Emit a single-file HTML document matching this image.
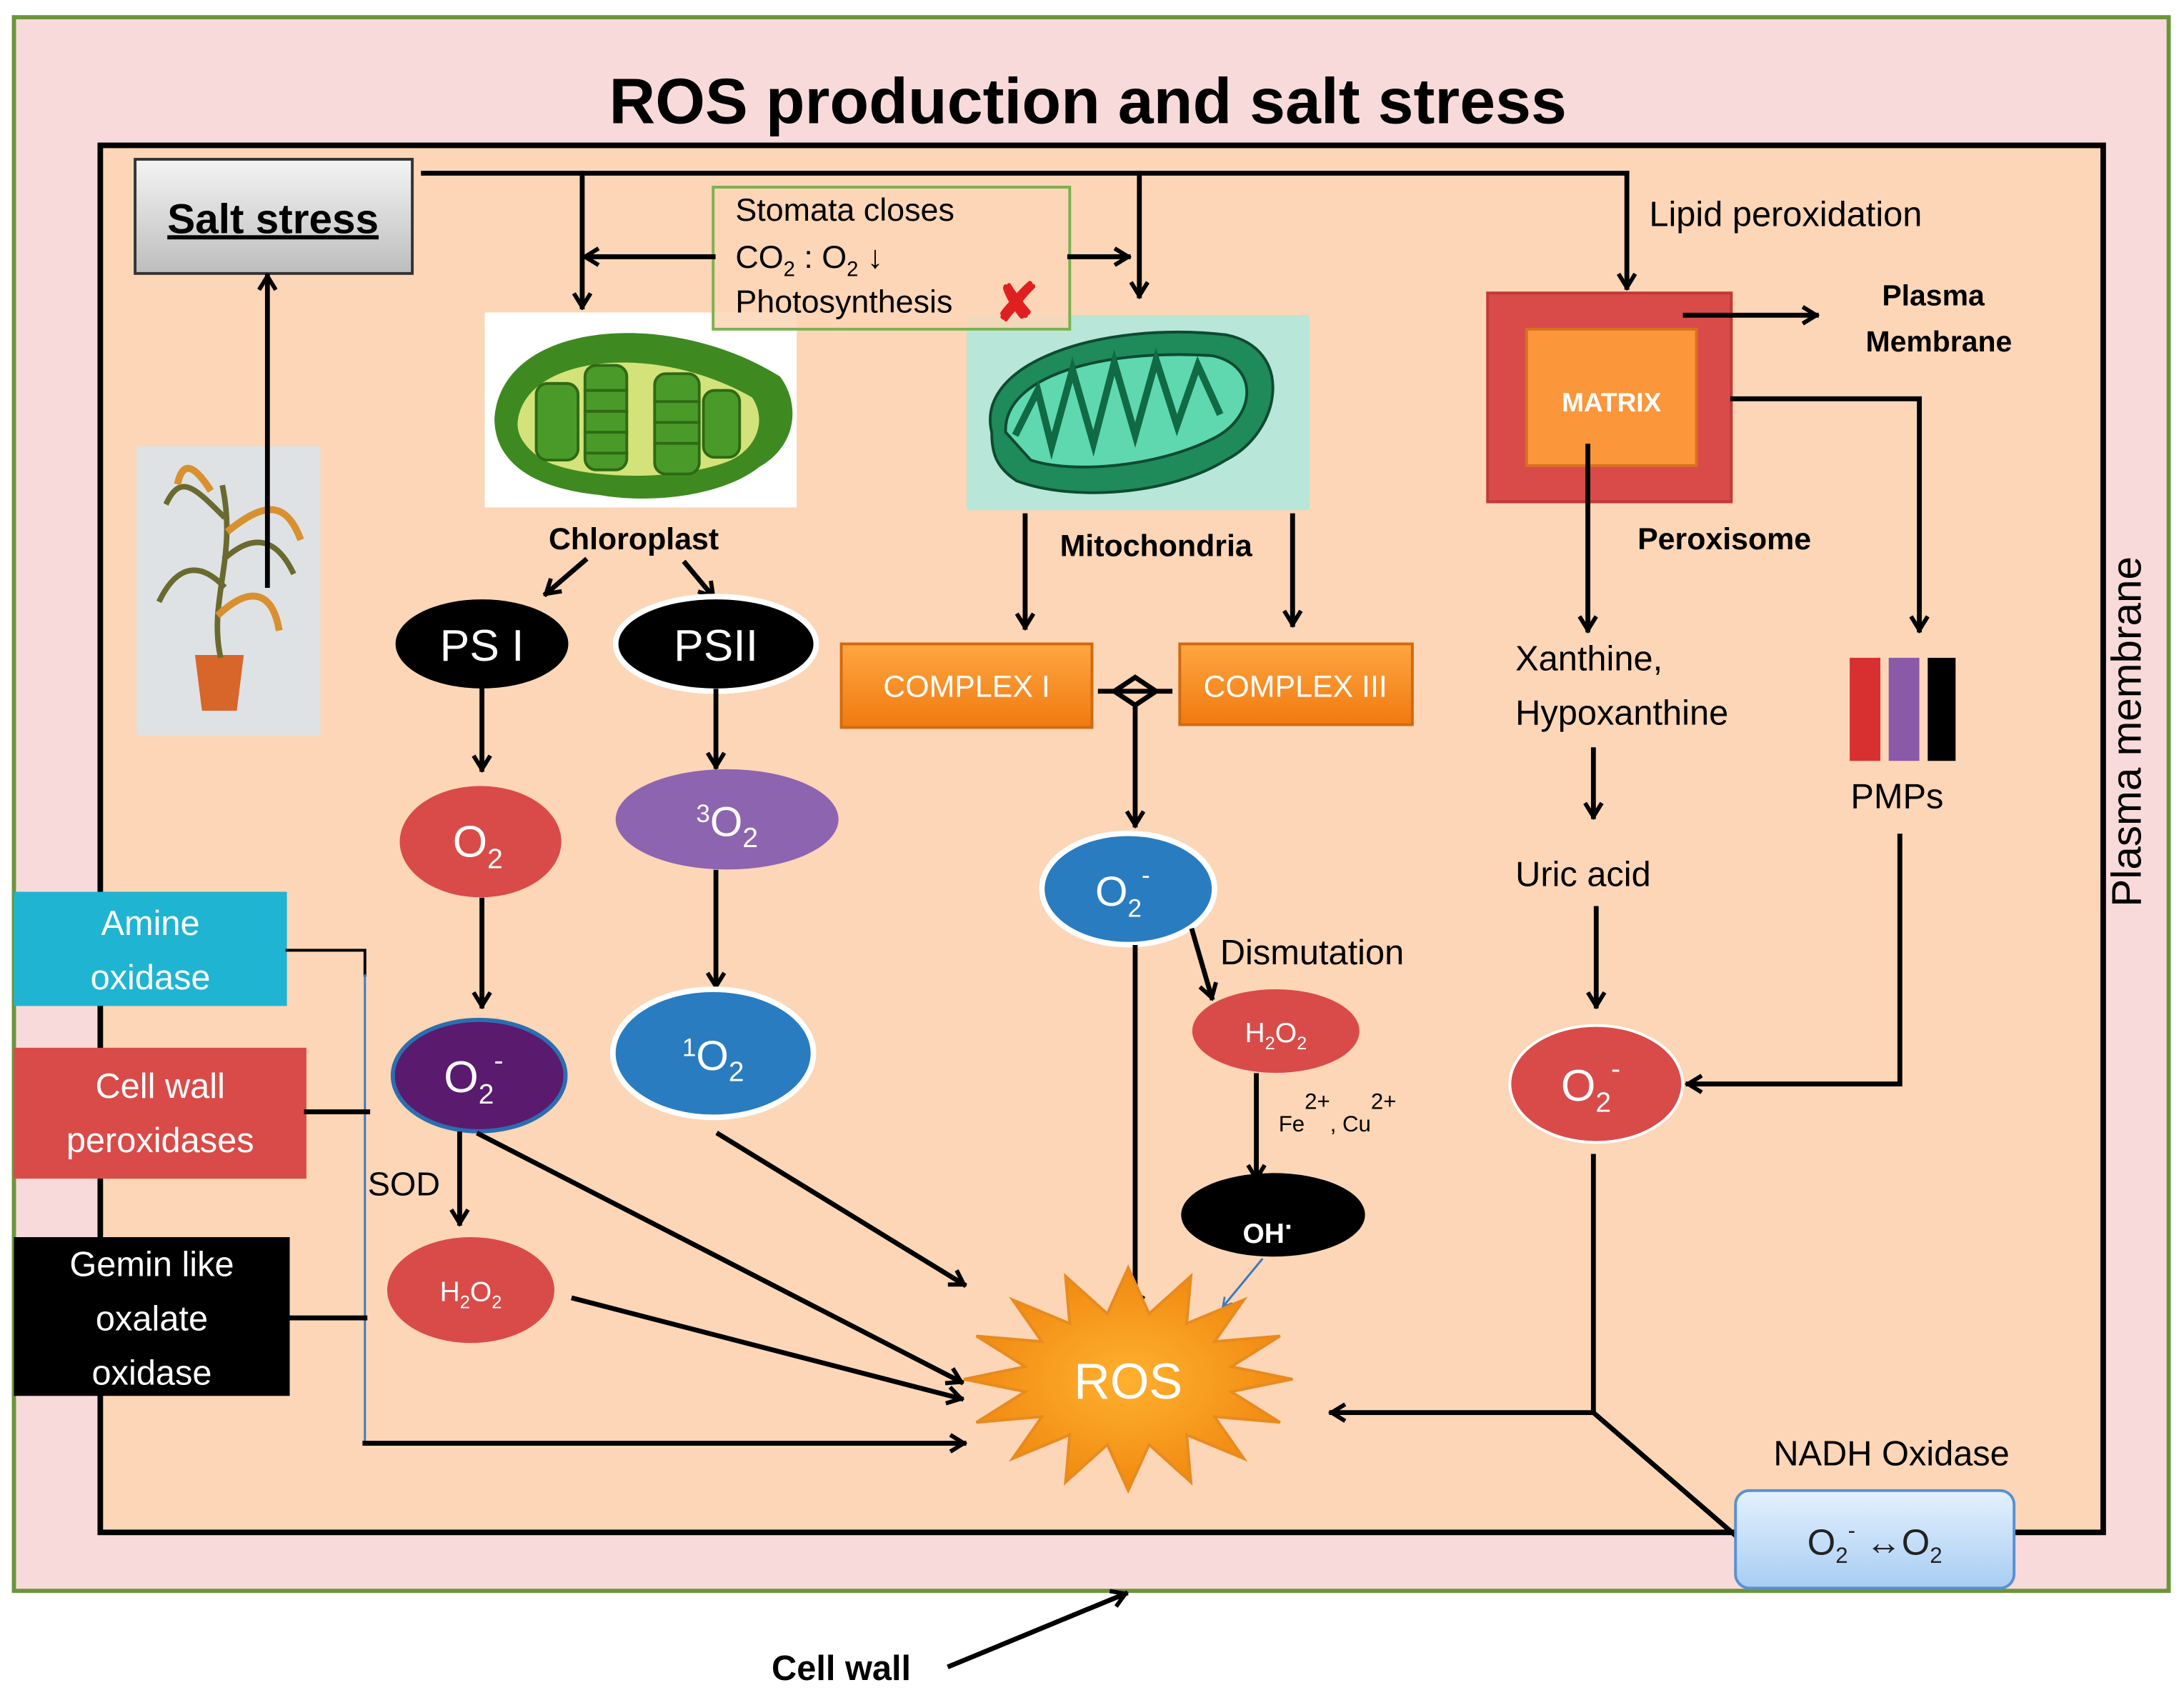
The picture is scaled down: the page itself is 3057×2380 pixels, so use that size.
<!DOCTYPE html>
<html><head><meta charset="utf-8"><style>
html,body{margin:0;padding:0;background:#fff;}
svg{display:block;}
text{font-family:"Liberation Sans",sans-serif;}
</style></head><body>
<svg width="3057" height="2380" viewBox="0 0 1568 1220" xmlns="http://www.w3.org/2000/svg">
<defs>
<marker id="a" viewBox="0 0 20 20" refX="17" refY="10" markerWidth="15" markerHeight="15" orient="auto" markerUnits="userSpaceOnUse">
<polyline points="4,2 17,10 4,18" fill="none" stroke="#000" stroke-width="4"/></marker>
<marker id="b" viewBox="0 0 20 20" refX="17" refY="10" markerWidth="9" markerHeight="9" orient="auto" markerUnits="userSpaceOnUse">
<polyline points="3,2 17,10 3,18" fill="none" stroke="#3a78c0" stroke-width="3"/></marker>
<linearGradient id="gs" x1="0" y1="0" x2="0" y2="1"><stop offset="0" stop-color="#f4f4f4"/><stop offset="1" stop-color="#bdbdbd"/></linearGradient>
<linearGradient id="go" x1="0" y1="0" x2="0" y2="1"><stop offset="0" stop-color="#ffa640"/><stop offset="1" stop-color="#f07a10"/></linearGradient>
<linearGradient id="gb" x1="0" y1="0" x2="0" y2="1"><stop offset="0" stop-color="#e4f1ff"/><stop offset="1" stop-color="#a8cdf2"/></linearGradient>
<radialGradient id="gr" cx=".5" cy=".5" r=".5"><stop offset="0" stop-color="#ffb030"/><stop offset="1" stop-color="#f08a10"/></radialGradient>
</defs>
<g stroke-linecap="square">
<rect x="10" y="12" width="1547" height="1130" fill="#f9dada" stroke="#6a963a" stroke-width="3"/>
<text x="781" y="88" font-size="46" font-weight="bold" text-anchor="middle">ROS production and salt stress</text>
<rect x="72" y="104" width="1438" height="996" fill="#fcd6b6" stroke="#000" stroke-width="4"/>
<text transform="translate(1537,525) rotate(-90)" font-size="30" text-anchor="middle">Plasma membrane</text>

<rect x="97" y="114" width="199" height="82" fill="url(#gs)" stroke="#333" stroke-width="2"/>
<text x="196" y="167" font-size="30" font-weight="bold" text-anchor="middle" text-decoration="underline">Salt stress</text>
<rect x="98" y="320" width="132" height="208" fill="#dfe2e4"/>
<path d="M140 470 L175 470 L170 510 L145 510Z" fill="#d8652a"/>
<g stroke="#6a6a30" stroke-width="4" fill="none"><path d="M158 470 C150 430 170 400 160 350"/><path d="M160 420 C140 400 125 410 115 430"/><path d="M162 400 C185 380 200 390 210 410"/><path d="M160 370 C140 350 130 340 120 360"/></g>
<g stroke="#d89030" stroke-width="5" fill="none"><path d="M165 380 C190 360 205 360 215 385"/><path d="M158 440 C180 420 195 425 200 450"/><path d="M150 350 C140 335 132 330 128 345"/></g>
<line x1="192" y1="420" x2="192" y2="198" stroke="#000" stroke-width="3.5" marker-end="url(#a)"/>

<polyline points="304,124 1168,124" fill="none" stroke="#000" stroke-width="3.5"/>
<line x1="418" y1="124" x2="418" y2="220" stroke="#000" stroke-width="3.5" marker-end="url(#a)"/>
<line x1="818" y1="124" x2="818" y2="212" stroke="#000" stroke-width="3.5" marker-end="url(#a)"/>
<line x1="1168" y1="124" x2="1168" y2="206" stroke="#000" stroke-width="3.5" marker-end="url(#a)"/>

<rect x="348" y="224" width="224" height="140" fill="#fff"/>
<path d="M355 300 C360 230 480 220 560 270 C575 290 572 320 545 335 C520 355 470 362 430 355 C380 350 355 330 355 300Z" fill="#3e8a20"/>
<path d="M372 300 C380 255 470 245 540 285 C550 300 545 320 525 330 C490 345 420 345 390 330 C375 320 370 310 372 300Z" fill="#d4e27a"/>
<g fill="#4a9a2a" stroke="#2e6a14" stroke-width="2"><rect x="385" y="275" width="30" height="55" rx="8"/><rect x="420" y="262" width="30" height="75" rx="8"/><rect x="470" y="268" width="32" height="72" rx="8"/><rect x="505" y="280" width="26" height="48" rx="8"/></g>
<g stroke="#2e6a14" stroke-width="2"><line x1="420" y1="280" x2="450" y2="280"/><line x1="420" y1="295" x2="450" y2="295"/><line x1="420" y1="310" x2="450" y2="310"/><line x1="420" y1="325" x2="450" y2="325"/><line x1="470" y1="288" x2="502" y2="288"/><line x1="470" y1="303" x2="502" y2="303"/><line x1="470" y1="318" x2="502" y2="318"/></g>

<rect x="694" y="226" width="246" height="140" fill="#b8e6d8"/>
<path d="M712 310 C700 260 790 230 880 240 C930 250 920 310 880 330 C840 355 770 360 730 345 C715 335 712 325 712 310Z" fill="#1f8a5a" stroke="#0e4a30" stroke-width="2"/>
<path d="M722 310 C720 270 790 250 870 255 C905 262 902 300 870 315 C830 335 770 340 740 330Z" fill="#5fd8b0" stroke="#0e4a30" stroke-width="2"/>
<path d="M730 310 L745 280 L755 320 L770 265 L785 318 L800 260 L815 312 L830 258 L845 305 L860 262 L875 295" fill="none" stroke="#106a44" stroke-width="5"/>

<rect x="512" y="134" width="256" height="102" fill="#fcd6b6" fill-opacity="0.85" stroke="#7cb050" stroke-width="2"/>
<text x="528" y="158" font-size="23">Stomata closes</text>
<text x="528" y="192" font-size="23">CO<tspan font-size="15" dy="6">2</tspan><tspan dy="-6"> : O</tspan><tspan font-size="15" dy="6">2</tspan><tspan dy="-6"> ↓</tspan></text>
<text x="528" y="224" font-size="23">Photosynthesis</text>
<text x="730" y="230" font-size="38" font-weight="bold" fill="#e02020" text-anchor="middle">✘</text>
<line x1="512" y1="184" x2="420" y2="184" stroke="#000" stroke-width="3.5" marker-end="url(#a)"/>
<line x1="768" y1="184" x2="810" y2="184" stroke="#000" stroke-width="3.5" marker-end="url(#a)"/>

<text x="455" y="394" font-size="22" font-weight="bold" text-anchor="middle">Chloroplast</text>
<text x="830" y="399" font-size="22" font-weight="bold" text-anchor="middle">Mitochondria</text>
<line x1="420" y1="402" x2="392" y2="426" stroke="#000" stroke-width="3.5" marker-end="url(#a)"/>
<line x1="492" y1="404" x2="512" y2="428" stroke="#000" stroke-width="3.5" marker-end="url(#a)"/>

<ellipse cx="346" cy="462" rx="62" ry="32" fill="#000"/>
<text x="346" y="474" font-size="32" fill="#fff" text-anchor="middle">PS I</text>
<ellipse cx="514" cy="462" rx="72" ry="34" fill="#000" stroke="#fff" stroke-width="4"/>
<text x="514" y="474" font-size="32" fill="#fff" text-anchor="middle">PSII</text>
<line x1="346" y1="494" x2="346" y2="552" stroke="#000" stroke-width="3.5" marker-end="url(#a)"/>
<line x1="514" y1="496" x2="514" y2="550" stroke="#000" stroke-width="3.5" marker-end="url(#a)"/>
<ellipse cx="345" cy="604" rx="58" ry="40" fill="#d94b48"/>
<text x="343" y="615" font-size="32" fill="#fff" text-anchor="middle">O<tspan font-size="20" dy="8">2</tspan></text>
<ellipse cx="522" cy="588" rx="80" ry="36" fill="#8c64b0"/>
<text x="522" y="600" font-size="30" fill="#fff" text-anchor="middle"><tspan font-size="18" dy="-10">3</tspan><tspan dy="10">O</tspan><tspan font-size="20" dy="8">2</tspan></text>
<line x1="346" y1="646" x2="346" y2="722" stroke="#000" stroke-width="3.5" marker-end="url(#a)"/>
<line x1="514" y1="626" x2="514" y2="708" stroke="#000" stroke-width="3.5" marker-end="url(#a)"/>
<ellipse cx="344" cy="772" rx="62" ry="40" fill="#5a1a6e" stroke="#2b6eb0" stroke-width="3"/>
<text x="340" y="784" font-size="32" fill="#fff" text-anchor="middle">O<tspan font-size="20" dy="8">2</tspan><tspan font-size="20" dy="-24">-</tspan></text>
<ellipse cx="512" cy="756" rx="72" ry="46" fill="#2a7cc0" stroke="#fff" stroke-width="4"/>
<text x="512" y="768" font-size="30" fill="#fff" text-anchor="middle"><tspan font-size="18" dy="-10">1</tspan><tspan dy="10">O</tspan><tspan font-size="20" dy="8">2</tspan></text>
<line x1="330" y1="814" x2="330" y2="878" stroke="#000" stroke-width="3.5" marker-end="url(#a)"/>
<text x="264" y="858" font-size="24">SOD</text>
<ellipse cx="338" cy="926" rx="60" ry="38" fill="#d94b48"/>
<text x="338" y="934" font-size="20" fill="#fff" text-anchor="middle">H<tspan font-size="13" dy="5">2</tspan><tspan dy="-5">O</tspan><tspan font-size="13" dy="5">2</tspan></text>

<line x1="736" y1="370" x2="736" y2="450" stroke="#000" stroke-width="3.5" marker-end="url(#a)"/>
<line x1="928" y1="370" x2="928" y2="448" stroke="#000" stroke-width="3.5" marker-end="url(#a)"/>
<rect x="604" y="462" width="180" height="60" fill="url(#go)" stroke="#d06a10" stroke-width="2"/>
<text x="694" y="500" font-size="22" fill="#fff" text-anchor="middle">COMPLEX I</text>
<rect x="847" y="462" width="167" height="58" fill="url(#go)" stroke="#d06a10" stroke-width="2"/>
<text x="930" y="500" font-size="22" fill="#fff" text-anchor="middle">COMPLEX III</text>
<line x1="790" y1="496" x2="840" y2="496" stroke="#000" stroke-width="3.5"/>
<path d="M800 496 L815 486 L830 496 L815 506Z" fill="none" stroke="#000" stroke-width="3.5"/>
<line x1="815" y1="508" x2="815" y2="592" stroke="#000" stroke-width="3.5" marker-end="url(#a)"/>
<ellipse cx="810" cy="638" rx="62" ry="40" fill="#2a7cc0" stroke="#fff" stroke-width="4"/>
<text x="806" y="650" font-size="30" fill="#fff" text-anchor="middle">O<tspan font-size="18" dy="8">2</tspan><tspan font-size="18" dy="-24">-</tspan></text>
<line x1="815" y1="680" x2="815" y2="940" stroke="#000" stroke-width="3.5" marker-end="url(#a)"/>
<line x1="856" y1="668" x2="870" y2="716" stroke="#000" stroke-width="3.5" marker-end="url(#a)"/>
<text x="876" y="692" font-size="25">Dismutation</text>
<ellipse cx="916" cy="740" rx="60" ry="30" fill="#d94b48"/>
<text x="916" y="748" font-size="20" fill="#fff" text-anchor="middle">H<tspan font-size="13" dy="5">2</tspan><tspan dy="-5">O</tspan><tspan font-size="13" dy="5">2</tspan></text>
<line x1="902" y1="772" x2="902" y2="846" stroke="#000" stroke-width="3.5" marker-end="url(#a)"/>
<text x="918" y="812" font-size="16">Fe<tspan dy="-16">2+</tspan><tspan dy="16">, Cu</tspan><tspan dy="-16">2+</tspan></text>
<ellipse cx="914" cy="872" rx="66" ry="30" fill="#000"/>
<text x="910" y="892" font-size="20" font-weight="bold" fill="#fff" text-anchor="middle">OH<tspan dy="-10">.</tspan></text>
<line x1="906" y1="904" x2="878" y2="938" stroke="#3a78c0" stroke-width="1.5" marker-end="url(#b)"/>

<polygon points="928,990 884,999 919,1021 872,1017 893,1047 852,1030 855,1064 825,1037 810,1070 795,1037 765,1064 768,1030 727,1047 748,1017 701,1021 736,999 692,990 736,981 701,959 748,963 727,933 768,950 765,916 795,943 810,910 825,943 855,916 852,950 893,933 872,963 919,959 884,981" fill="url(#gr)" stroke="#e88a20" stroke-width="2"/>
<text x="810" y="1004" font-size="36" fill="#fff" text-anchor="middle">ROS</text>
<line x1="516" y1="814" x2="692" y2="922" stroke="#000" stroke-width="3.5" marker-end="url(#a)"/>
<line x1="344" y1="814" x2="690" y2="992" stroke="#000" stroke-width="3.5" marker-end="url(#a)"/>
<line x1="412" y1="932" x2="690" y2="1004" stroke="#000" stroke-width="3.5" marker-end="url(#a)"/>

<rect x="10" y="640" width="196" height="82" fill="#1fb4d2"/>
<text x="108" y="671" font-size="25" fill="#fff" text-anchor="middle">Amine</text>
<text x="108" y="710" font-size="25" fill="#fff" text-anchor="middle">oxidase</text>
<rect x="10" y="752" width="210" height="94" fill="#d94b48"/>
<text x="115" y="788" font-size="25" fill="#fff" text-anchor="middle">Cell wall</text>
<text x="115" y="827" font-size="25" fill="#fff" text-anchor="middle">peroxidases</text>
<rect x="10" y="888" width="198" height="114" fill="#000"/>
<text x="109" y="916" font-size="25" fill="#fff" text-anchor="middle">Gemin like</text>
<text x="109" y="955" font-size="25" fill="#fff" text-anchor="middle">oxalate</text>
<text x="109" y="994" font-size="25" fill="#fff" text-anchor="middle">oxidase</text>
<polyline points="206,682 262,682 262,700" fill="none" stroke="#000" stroke-width="2"/>
<line x1="262" y1="700" x2="262" y2="1036" stroke="#3a78c0" stroke-width="1.5"/>
<line x1="220" y1="798" x2="264" y2="798" stroke="#000" stroke-width="3.5"/>
<line x1="208" y1="946" x2="262" y2="946" stroke="#000" stroke-width="3.5"/>
<line x1="262" y1="1036" x2="692" y2="1036" stroke="#000" stroke-width="3.5" marker-end="url(#a)"/>

<text x="1184" y="162" font-size="25">Lipid peroxidation</text>
<rect x="1068" y="210" width="175" height="150" fill="#d94b48" stroke="#c03a38" stroke-width="2"/>
<rect x="1096" y="236" width="122" height="98" fill="#fb963a" stroke="#d87020" stroke-width="2"/>
<text x="1157" y="295" font-size="19" font-weight="bold" fill="#fff" text-anchor="middle">MATRIX</text>
<line x1="1210" y1="226" x2="1304" y2="226" stroke="#000" stroke-width="3.5" marker-end="url(#a)"/>
<text x="1388" y="219" font-size="21" font-weight="bold" text-anchor="middle">Plasma</text>
<text x="1392" y="252" font-size="21" font-weight="bold" text-anchor="middle">Membrane</text>
<polyline points="1244,286 1378,286 1378,452" fill="none" stroke="#000" stroke-width="3.5" marker-end="url(#a)"/>
<line x1="1140" y1="320" x2="1140" y2="452" stroke="#000" stroke-width="3.5" marker-end="url(#a)"/>
<text x="1238" y="394" font-size="22" font-weight="bold" text-anchor="middle">Peroxisome</text>
<text x="1088" y="481" font-size="25">Xanthine,</text>
<text x="1088" y="520" font-size="25">Hypoxanthine</text>
<line x1="1144" y1="538" x2="1144" y2="586" stroke="#000" stroke-width="3.5" marker-end="url(#a)"/>
<text x="1088" y="636" font-size="25">Uric acid</text>
<line x1="1146" y1="652" x2="1146" y2="722" stroke="#000" stroke-width="3.5" marker-end="url(#a)"/>
<rect x="1328" y="472" width="22" height="74" fill="#d83030"/>
<rect x="1356" y="472" width="22" height="74" fill="#8a5aa8"/>
<rect x="1384" y="472" width="20" height="74" fill="#000"/>
<text x="1362" y="580" font-size="25" text-anchor="middle">PMPs</text>
<polyline points="1364,600 1364,778 1212,778" fill="none" stroke="#000" stroke-width="3.5" marker-end="url(#a)"/>
<ellipse cx="1146" cy="778" rx="62" ry="42" fill="#d94b48" stroke="#fff" stroke-width="2"/>
<text x="1142" y="790" font-size="32" fill="#fff" text-anchor="middle">O<tspan font-size="20" dy="8">2</tspan><tspan font-size="20" dy="-24">-</tspan></text>
<polyline points="1144,830 1144,1014 956,1014" fill="none" stroke="#000" stroke-width="3.5" marker-end="url(#a)"/>
<line x1="1144" y1="1014" x2="1248" y2="1104" stroke="#000" stroke-width="3.5"/>
<text x="1358" y="1052" font-size="25" text-anchor="middle">NADH Oxidase</text>
<rect x="1246" y="1070" width="200" height="70" rx="10" fill="url(#gb)" stroke="#5a90d0" stroke-width="2"/>
<text x="1346" y="1116" font-size="26" fill="#222" text-anchor="middle">O<tspan font-size="16" dy="6">2</tspan><tspan font-size="16" dy="-18">-</tspan><tspan dy="12"> ↔O</tspan><tspan font-size="16" dy="6">2</tspan></text>

<text x="604" y="1206" font-size="25" font-weight="bold" text-anchor="middle">Cell wall</text>
<line x1="682" y1="1196" x2="808" y2="1144" stroke="#000" stroke-width="3.5" marker-end="url(#a)"/>
</g>
</svg>
</body></html>
